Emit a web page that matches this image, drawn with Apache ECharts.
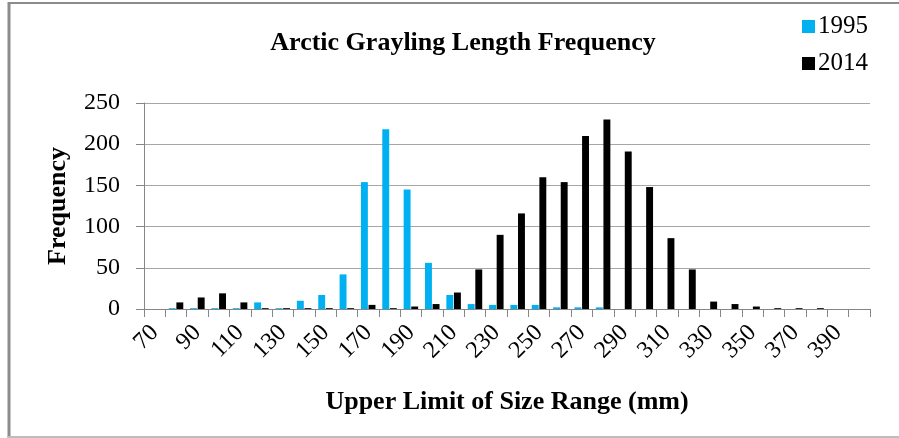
<html>
<head>
    <meta charset="utf-8">
    <title>Arctic Grayling Length Frequency</title>
    <script src="https://cdn.jsdelivr.net/npm/echarts@6.0.0/dist/echarts.min.js"></script>
    <style>
        html, body { margin: 0; padding: 0; background: #fff; }
    </style>
</head>
<body>
    <div id="chartmain" style="width:899px; height:438px;"></div>

    <script type="text/javascript">
        // upper limit of each size class (mm)
        var sizeClasses = ['70', '80', '90', '100', '110', '120', '130', '140', '150', '160',
            '170', '180', '190', '200', '210', '220', '230', '240', '250', '260',
            '270', '280', '290', '300', '310', '320', '330', '340', '350', '360',
            '370', '380', '390', '400'];

        var freq1995 = [0, 1, 1, 1, 1, 8, 1, 10, 17, 42,
            154, 218, 145, 56, 17, 6, 5, 5, 5, 2,
            2, 2, 0, 0, 0, 0, 0, 0, 0, 0,
            0, 0, 0, 0];

        var freq2014 = [0, 8, 14, 19, 8, 1, 1, 1, 1, 1,
            5, 1, 3, 6, 20, 48, 90, 116, 160, 154,
            210, 230, 191, 148, 86, 48, 9, 6, 3, 1,
            1, 1, 0, 0];

        var serif = '"Liberation Serif", "Times New Roman", serif';

        var myChart = echarts.init(document.getElementById('chartmain'));
        myChart.setOption({
            animation: false,
            title: {
                text: 'Arctic Grayling Length Frequency',
                left: 458,
                top: 25,
                textAlign: 'center',
                textStyle: { fontFamily: serif, fontSize: 26, fontWeight: 'bold', color: '#000' }
            },
            legend: {
                orient: 'vertical',
                left: 797,
                top: 9,
                itemWidth: 13,
                itemHeight: 13,
                itemGap: 12,
                icon: 'rect',
                textStyle: { fontFamily: serif, fontSize: 25, color: '#000', padding: [0, 0, 0, -2] },
                data: ['1995', '2014']
            },
            grid: { left: 144, right: 29, top: 103, bottom: 129 },
            xAxis: {
                type: 'category',
                data: sizeClasses,
                name: 'Upper Limit of Size Range (mm)',
                nameLocation: 'middle',
                nameGap: 80,
                nameTextStyle: { fontFamily: serif, fontSize: 26, fontWeight: 'bold', color: '#000' },
                axisLine: { lineStyle: { color: '#868686', width: 1 } },
                axisTick: { show: true, interval: 0, length: 8, lineStyle: { color: '#868686' } },
                axisLabel: {
                    interval: 1,
                    rotate: 45,
                    margin: 20,
                    fontFamily: serif,
                    fontSize: 24,
                    color: '#000'
                }
            },
            yAxis: {
                type: 'value',
                min: 0,
                max: 250,
                interval: 50,
                name: 'Frequency',
                nameLocation: 'middle',
                nameGap: 73,
                nameTextStyle: { fontFamily: serif, fontSize: 26, fontWeight: 'bold', color: '#000' },
                axisLine: { show: true, lineStyle: { color: '#868686' } },
                axisTick: { show: true, length: 8, lineStyle: { color: '#868686' } },
                axisLabel: { fontFamily: serif, fontSize: 24, color: '#000', margin: 24 },
                splitLine: { lineStyle: { color: '#a6a6a6', width: 1 } }
            },
            series: [
                {
                    name: '1995',
                    type: 'bar',
                    data: freq1995,
                    barCategoryGap: '32%',
                    barGap: '10%',
                    itemStyle: { color: '#00b0f0' }
                },
                {
                    name: '2014',
                    type: 'bar',
                    data: freq2014,
                    itemStyle: { color: '#000000' }
                }
            ],
            graphic: [
                { type: 'line', shape: { x1: 8, y1: 3, x2: 899, y2: 3 }, style: { stroke: '#8c8c8c', lineWidth: 2 } },
                { type: 'line', shape: { x1: 9, y1: 2, x2: 9, y2: 438 }, style: { stroke: '#8c8c8c', lineWidth: 3 } },
                { type: 'line', shape: { x1: 8, y1: 437, x2: 899, y2: 437 }, style: { stroke: '#bdbdbd', lineWidth: 2 } }
            ]
        });
    </script>
</body>
</html>
